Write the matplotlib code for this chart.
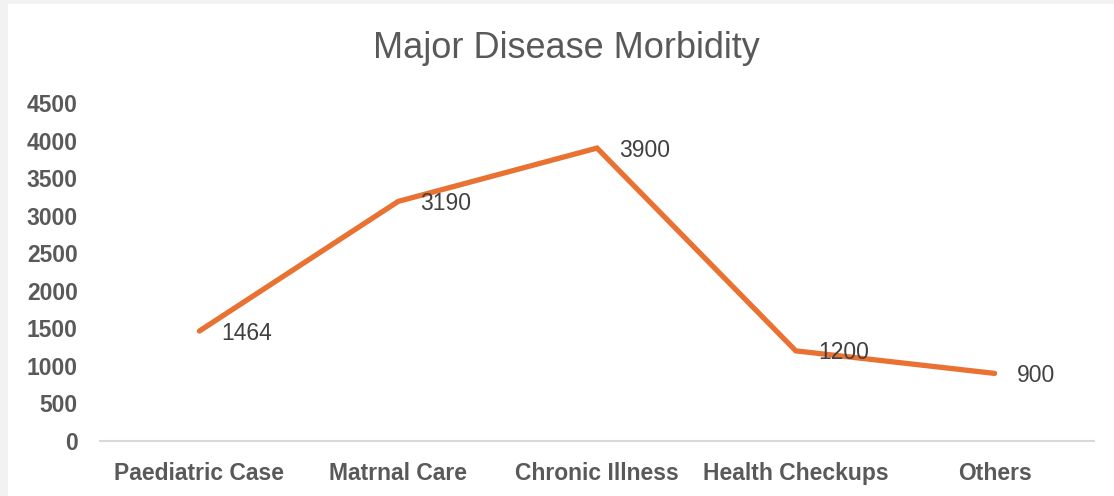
import matplotlib
matplotlib.use("Agg")
import matplotlib.pyplot as plt
from matplotlib.patches import Rectangle

categories = ["Paediatric Case", "Matrnal Care", "Chronic Illness", "Health Checkups", "Others"]
cases = [1464, 3190, 3900, 1200, 900]
y_ticks = [0, 500, 1000, 1500, 2000, 2500, 3000, 3500, 4000, 4500]

plt.rcParams["font.family"] = ["Liberation Sans", "DejaVu Sans"]

fig = plt.figure(figsize=(11.14, 4.96), dpi=100, facecolor="white")
# grey strips on the left/top edge of the screenshot
fig.patches.append(Rectangle((0, 0), 8 / 1114, 1, transform=fig.transFigure,
                             facecolor="#f2f2f2", edgecolor="none"))
fig.patches.append(Rectangle((0, 1 - 4 / 496), 1, 4 / 496, transform=fig.transFigure,
                             facecolor="#f2f2f2", edgecolor="none"))

ax = fig.add_axes([100 / 1114, 1 - 441 / 496, 994 / 1114, 338 / 496])
ax.set_facecolor("white")

x = list(range(len(categories)))
ax.plot(x, cases, color="#E97132", linewidth=3.8, solid_capstyle="round", solid_joinstyle="miter")

for xi, v in zip(x, cases):
    ax.annotate(str(v), (xi, v), xytext=(16, -1.5), textcoords="offset points",
                ha="left", va="center", fontsize=16.5, color="#404040")

ax.set_xlim(-0.5, len(categories) - 0.5)
ax.set_ylim(0, 4500)
ax.set_yticks(y_ticks)
ax.set_xticks(x)
ax.set_xticklabels(categories)

for s in ["top", "right", "left"]:
    ax.spines[s].set_visible(False)
ax.spines["bottom"].set_color("#d9d9d9")
ax.spines["bottom"].set_linewidth(1.5)

ax.tick_params(axis="y", length=0, pad=16, labelsize=16.5, labelcolor="#595959")
ax.tick_params(axis="x", length=0, pad=15, labelsize=16.5, labelcolor="#595959")
for lbl in ax.get_xticklabels() + ax.get_yticklabels():
    lbl.set_fontweight("bold")

fig.text(566 / 1114, 1 - 48 / 496, "Major Disease Morbidity", ha="center", va="center",
         fontsize=26, color="#595959")

fig.savefig("out.png", dpi=100, facecolor=fig.get_facecolor())
plt.close(fig)
